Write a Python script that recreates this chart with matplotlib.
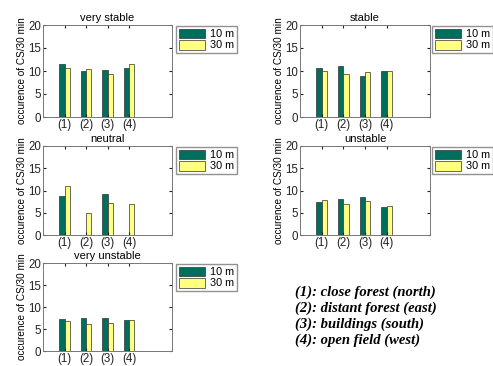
import numpy as np
import matplotlib
matplotlib.use("Agg")
import matplotlib.pyplot as plt

plt.rcParams['font.family'] = ['Liberation Sans', 'DejaVu Sans']

# categories (wind sectors) and stability classes
sectors = ["(1)", "(2)", "(3)", "(4)"]
titles = ["very stable", "stable", "neutral", "unstable", "very unstable"]

# occurrence of coherent structures per 30 min
h10 = [
    [11.6, 9.9, 10.3, 10.6],
    [10.7, 11.1, 8.9, 9.9],
    [8.8, 0.0, 9.2, 0.0],
    [7.5, 8.0, 8.6, 6.3],
    [7.3, 7.4, 7.6, 7.0],
]
h30 = [
    [10.7, 10.4, 9.3, 11.6],
    [10.1, 9.3, 9.7, 9.9],
    [11.0, 5.0, 7.3, 7.0],
    [7.8, 6.9, 7.7, 6.6],
    [6.8, 6.1, 6.4, 7.0],
]
key_lines = ["(1): close forest (north)", "(2): distant forest (east)",
             "(3): buildings (south)", "(4): open field (west)"]

W, H = 493, 366
fig = plt.figure(figsize=(W / 100, H / 100), dpi=100)

cols = [(43, 172), (300, 430)]
rows = [(25, 117), (146, 235), (263, 351)]
green = '#006e5c'
yellow = '#ffff80'

x = np.arange(1, len(sectors) + 1)
w = 0.25
for i, t in enumerate(titles):
    r, c = divmod(i, 2)
    x0, x1 = cols[c]
    y0, y1 = rows[r]
    ax = fig.add_axes([x0 / W, 1 - y1 / H, (x1 - x0) / W, (y1 - y0) / H])
    ax.bar(x - w / 2, h10[i], w, color=green, edgecolor='#303030', linewidth=0.5, label='10 m')
    ax.bar(x + w / 2, h30[i], w, color=yellow, edgecolor='#303030', linewidth=0.5, label='30 m')
    ax.set_xlim(0, 6)
    ax.set_ylim(0, 20)
    ax.set_xticks(x)
    ax.set_xticklabels(sectors)
    ax.set_yticks([0, 5, 10, 15, 20])
    ax.tick_params(direction='in', length=2, labelsize=8.3, top=True, right=True,
                   colors='#222222', pad=1.5)
    for s in ax.spines.values():
        s.set_color('#777777')
        s.set_linewidth(0.7)
    ax.set_title(t, fontsize=8, pad=3)
    ax.set_ylabel("occurence of CS/30 min", fontsize=7.2, labelpad=1)
    leg_x = 176 if c == 0 else 432
    ax.legend(loc='upper left', bbox_to_anchor=(leg_x / W, 1 - 26 / H - (y0 - 25) / H),
              bbox_transform=fig.transFigure, fontsize=7.8, frameon=True, fancybox=False,
              edgecolor='#777777', borderpad=0.25, handlelength=2.4, handleheight=1.0,
              handletextpad=0.5, labelspacing=0.05, borderaxespad=0)

for k, line in enumerate(key_lines):
    fig.text(295 / W, 1 - (292 + 16 * k) / H, line, fontsize=10.5,
             family='Liberation Serif', style='italic', weight='bold', va='center')

fig.savefig("out.png", dpi=100)
